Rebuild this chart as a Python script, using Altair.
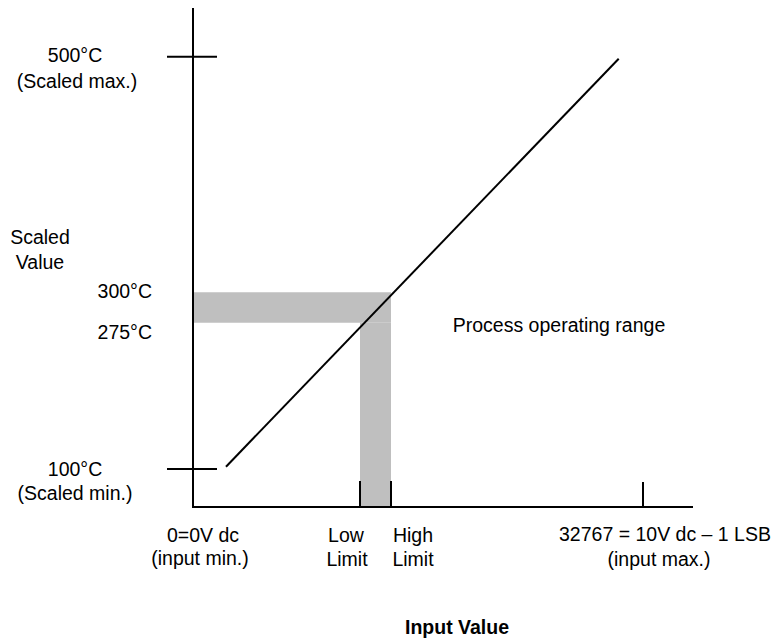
import altair as alt
import pandas as pd

# Diagram coordinates (schematic units, y grows downward)
# Axis and tick segments: x, y, x2, y2
seg_x = [193, 193, 167, 167, 360, 391, 643]
seg_y = [4, 507, 56.7, 469, 481, 481, 482]
seg_x2 = [193, 693, 217, 217, 360, 391, 643]
seg_y2 = [508, 507, 56.7, 469, 507, 507, 507]

# Scaling line (scaled min. -> scaled max.)
line_x = [226]
line_y = [466.7]
line_x2 = [618.7]
line_y2 = [58.7]

# Gray bands: process operating range
band_x = [194, 360]
band_x2 = [391, 391]
band_y = [292.3, 322.7]
band_y2 = [322.7, 507]

# Labels
label_text = ["500°C", "(Scaled max.)", "Scaled", "Value", "300°C", "275°C",
              "100°C", "(Scaled min.)", "Process operating range",
              "0=0V dc", "(input min.)", "Low", "Limit", "High", "Limit",
              "32767 = 10V dc – 1 LSB", "(input max.)"]
label_x = [75, 77, 40, 40, 152, 152, 75, 75, 559, 203, 200, 346, 347, 413, 413, 665, 659]
label_y = [62, 88, 244, 269, 298, 339, 476, 500, 332, 542, 565, 542, 566, 542, 566, 541, 566]
label_align = ["center", "center", "center", "center", "right", "right",
               "center", "center", "center", "center", "center", "center", "center",
               "center", "center", "center", "center"]

title_text = ["Input Value"]
title_x = [457]
title_y = [634]

FONT = "Liberation Sans, Arial, Helvetica"
FS = 19.5

xs = alt.Scale(domain=[8, 772], nice=False, zero=False)
ys = alt.Scale(domain=[8, 638], nice=False, zero=False, reverse=True)

segs = pd.DataFrame({"x": seg_x, "y": seg_y, "x2": seg_x2, "y2": seg_y2})
line = pd.DataFrame({"x": line_x, "y": line_y, "x2": line_x2, "y2": line_y2})
bands = pd.DataFrame({"x": band_x, "x2": band_x2, "y": band_y, "y2": band_y2})
labels = pd.DataFrame({"t": label_text, "x": label_x, "y": label_y, "a": label_align})
title = pd.DataFrame({"t": title_text, "x": title_x, "y": title_y})

X = alt.X("x:Q", scale=xs, axis=None)
Y = alt.Y("y:Q", scale=ys, axis=None)

band_layer = alt.Chart(bands).mark_rect(color="#bfbfbf").encode(
    x=X, x2="x2:Q", y=Y, y2="y2:Q")

seg_layer = alt.Chart(segs).mark_rule(color="black", strokeWidth=2).encode(
    x=X, x2="x2:Q", y=Y, y2="y2:Q")

line_layer = alt.Chart(line).mark_rule(color="black", strokeWidth=2).encode(
    x=X, x2="x2:Q", y=Y, y2="y2:Q")

parts = []
for al in ["center", "right"]:
    parts.append(
        alt.Chart(labels[labels.a == al]).mark_text(
            font=FONT, fontSize=FS, align=al, baseline="alphabetic", color="black"
        ).encode(x=X, y=Y, text="t:N")
    )

title_layer = alt.Chart(title).mark_text(
    font=FONT, fontSize=FS, fontWeight="bold", align="center",
    baseline="alphabetic", color="black"
).encode(x=X, y=Y, text="t:N")

chart = alt.layer(band_layer, seg_layer, line_layer, *parts, title_layer).properties(
    width=764, height=630, autosize=alt.AutoSizeParams(type="none"), padding=0
).configure_view(stroke=None)

chart.save("out.html", embed_options={"renderer": "svg", "actions": False})
